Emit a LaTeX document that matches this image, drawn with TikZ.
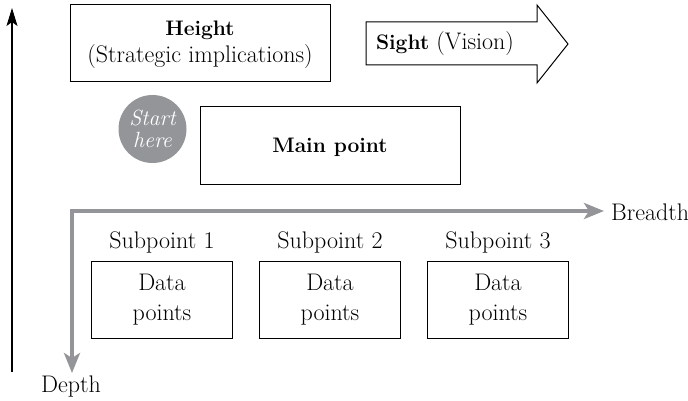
\documentclass[tikz,border=0pt]{standalone}
\usepackage{fontspec}
\usetikzlibrary{arrows.meta}
\definecolor{axisgray}{HTML}{939598}
\newcommand{\headfont}{\fontsize{21}{29}\selectfont\bfseries}
\begin{document}
\begin{tikzpicture}[x=1pt,y=-1pt,
  txt/.style={font=\fontsize{24}{29}\selectfont, inner sep=0pt},
  box/.style={draw, line width=1pt, inner sep=0pt},
  grayaxis/.style={draw=axisgray, line width=4.5pt,
    {Stealth[length=20pt,width=16pt,inset=5pt]}-{Stealth[length=20pt,width=16pt,inset=5pt]}},
]
\useasboundingbox (0,0) rectangle (688,401);

% vertical scale arrow on the left
\coordinate (vbot) at (12,372);
\coordinate (vtop) at (12,8);
\draw[line width=1.1pt,-{Stealth[length=18pt,width=11pt,inset=4pt]}] (vbot) -- (vtop);

% height box
\node[box, minimum width=260pt, minimum height=77pt] (height) at (200,43.5) {};
\node[txt, font=\headfont] (heighttitle) at (200,30) {Height};
\node[txt] (heightsub) at (200,57) {(Strategic implications)};

% sight arrow
\draw[line width=1pt] (366,22) -- (537,22) -- (537,5) -- (568,44) -- (537,83) -- (537,65) -- (366,65) -- cycle;
\node[txt] (sight) at (445,44) {{\headfont Sight} (Vision)};

% start marker
\node[circle, fill=axisgray, minimum size=68pt, inner sep=0pt, align=center,
      text=white, font=\fontsize{22}{22}\selectfont\itshape] (start) at (152.5,129) {Start\\here};

% main point
\node[box, minimum width=260pt, minimum height=77pt] (main) at (330,145.5) {};
\node[txt, font=\headfont] (maintxt) at (330,147) {Main point};

% gray axes, one path so the corner is mitred
\coordinate (corner) at (72,211);
\coordinate (breadthend) at (604,211);
\coordinate (depthend) at (72,373);
\draw[grayaxis] (depthend) -- (corner) -- (breadthend);
\node[txt, anchor=west] (breadth) at (611,212) {Breadth};
\node[txt] (depth) at (71,387) {Depth};

% subpoints and their data boxes
\foreach \i/\cx in {1/162, 2/330, 3/498} {
  \node[txt] (sub\i) at (\cx,242) {Subpoint \i};
  \node[box, minimum width=141pt, minimum height=77pt, align=center,
        font=\fontsize{24}{30}\selectfont] (data\i) at (\cx,299.5) {Data\\points};
}
\end{tikzpicture}
\end{document}
